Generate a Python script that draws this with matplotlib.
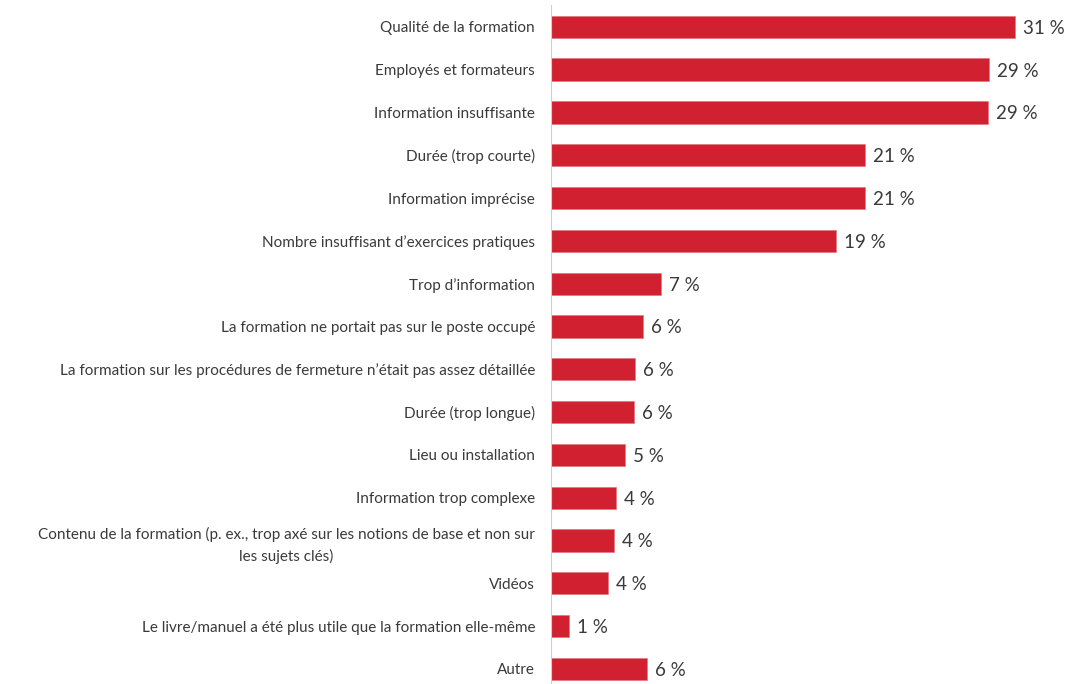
import matplotlib
matplotlib.use('Agg')
import matplotlib.pyplot as plt

categories = [
    "Qualité de la formation",
    "Employés et formateurs",
    "Information insuffisante",
    "Durée (trop courte)",
    "Information imprécise",
    "Nombre insuffisant d’exercices pratiques",
    "Trop d’information",
    "La formation ne portait pas sur le poste occupé",
    "La formation sur les procédures de fermeture n’était pas assez détaillée",
    "Durée (trop longue)",
    "Lieu ou installation",
    "Information trop complexe",
    "Contenu de la formation (p. ex., trop axé sur les notions de base et non sur\nles sujets clés)",
    "Vidéos",
    "Le livre/manuel a été plus utile que la formation elle-même",
    "Autre",
]
values = [30.9, 29.2, 29.1, 20.9, 20.9, 19.0, 7.3, 6.1, 5.6, 5.5, 4.9, 4.3, 4.2, 3.8, 1.2, 6.4]
value_labels = ["31 %", "29 %", "29 %", "21 %", "21 %", "19 %", "7 %", "6 %", "6 %",
                "6 %", "5 %", "4 %", "4 %", "4 %", "1 %", "6 %"]

plt.rcParams['font.family'] = ['Lato', 'DejaVu Sans']

fig = plt.figure(figsize=(10.7, 6.84), dpi=100)
# plot area: bars start at x=551px, rows spaced ~42.8px
ax = fig.add_axes([551 / 1070, -6.4 / 684, 525 / 1070, 685 / 684])

y = list(range(len(categories)))
ax.barh(y, values, height=0.52, color='#D1202F', edgecolor='#E07078', linewidth=0.4)
ax.set_ylim(len(categories) - 0.5, -0.5)
ax.set_xlim(0, 35)

for yi, v, lab in zip(y, values, value_labels):
    ax.annotate(lab, (v, yi), xytext=(6, -1), textcoords='offset points',
                ha='left', va='center', fontsize=13.5, color='#3a3a3a')

ax.set_yticks(y)
ax.set_yticklabels(categories, fontsize=11.0, color='#3a3a3a',
                   multialignment='center', linespacing=1.6)
ax.tick_params(axis='y', length=0, pad=11.5)
ax.set_xticks([])

for side in ['top', 'right', 'bottom']:
    ax.spines[side].set_visible(False)
ax.spines['left'].set_color('#d0d0d0')
ax.spines['left'].set_linestyle((0, (1, 1)))
ax.spines['left'].set_linewidth(0.8)

fig.savefig('out.png', dpi=100)
